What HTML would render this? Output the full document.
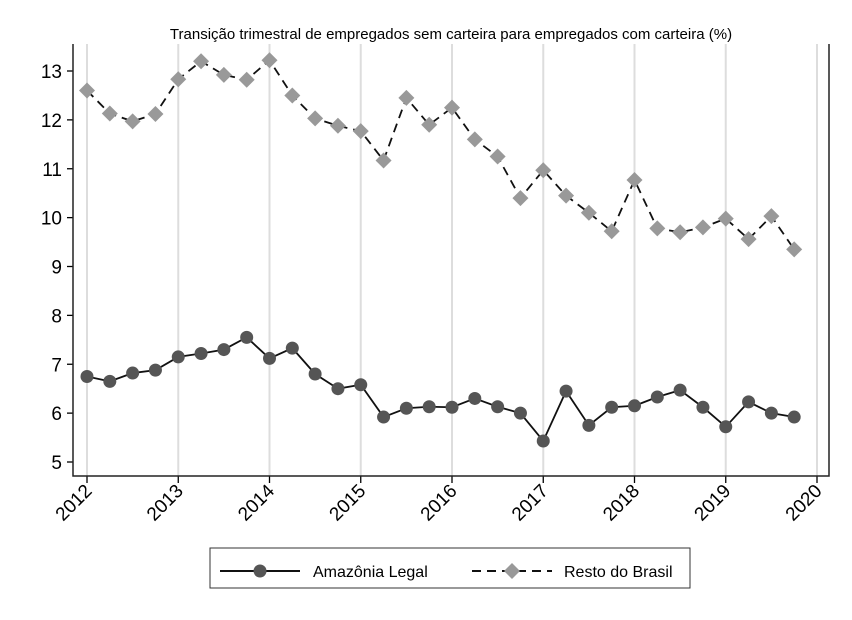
<!DOCTYPE html>
<html><head><meta charset="utf-8"><style>
body{margin:0;background:#fff;}
svg{display:block;font-family:"Liberation Sans",sans-serif;}
</style></head><body>
<svg id="c" width="852" height="620" xmlns="http://www.w3.org/2000/svg">
<rect width="852" height="620" fill="#fff"/>
<text x="451" y="39" text-anchor="middle" font-size="15" fill="#000">Transição trimestral de empregados sem carteira para empregados com carteira (%)</text>
<g id="grid"></g><g id="axes"></g><g id="series"></g>
<g>
<rect x="210" y="548" width="480" height="40" fill="#fff" stroke="#333" stroke-width="1"/>
<g>
<line x1="220" y1="571" x2="300" y2="571" stroke="#111" stroke-width="2"/>
<circle cx="260" cy="571" r="6.5" fill="#555"/>
<text x="313" y="577" font-size="16">Amazônia Legal</text></g>
<g>
<line x1="472" y1="571" x2="552" y2="571" stroke="#111" stroke-width="2" stroke-dasharray="9,6"/>
<polygon points="512,563 520,571 512,579 504,571" fill="#999"/>
<text x="564" y="577" font-size="16">Resto do Brasil</text></g>
</g>
</svg>
<script>
const years=[2012,2013,2014,2015,2016,2017,2018,2019,2020];
const yTicks=[5,6,7,8,9,10,11,12,13];
const amazonia=[6.75,6.65,6.82,6.88,7.15,7.22,7.3,7.55,7.12,7.33,6.8,6.5,6.58,5.92,6.1,6.13,6.12,6.3,6.13,6.0,5.43,6.45,5.75,6.12,6.15,6.33,6.47,6.12,5.72,6.23,6.0,5.92];
const resto=[12.6,12.13,11.97,12.12,12.83,13.2,12.92,12.82,13.22,12.5,12.03,11.88,11.77,11.17,12.45,11.9,12.25,11.6,11.25,10.4,10.97,10.45,10.1,9.72,10.77,9.78,9.7,9.8,9.98,9.56,10.03,9.35];
const NS='http://www.w3.org/2000/svg';
const L=73,R=829,T=44,B=476;
const x=t=>87+(t-2012)*91.25;
const y=v=>462-(v-5)*48.875;
function mk(tag,attrs,parent){const e=document.createElementNS(NS,tag);for(const k in attrs)e.setAttribute(k,attrs[k]);parent.appendChild(e);return e;}
const grid=document.getElementById('grid'),axes=document.getElementById('axes'),series=document.getElementById('series');
years.forEach(yr=>{
 const g=mk('line',{x1:x(yr),x2:x(yr),y1:T,y2:B,stroke:'#ddd','stroke-width':2},grid);
 
 
 const tk=mk('line',{x1:x(yr),x2:x(yr),y1:B,y2:B+7,stroke:'#000','stroke-width':1.3},axes);
 
 
 const tx=mk('text',{x:x(yr)+6,y:B+16,'font-size':19,'text-anchor':'end',transform:`rotate(-45 ${x(yr)+6} ${B+16})`},axes);
 tx.textContent=yr;
 
 
});
yTicks.forEach(v=>{
 const tk=mk('line',{x1:L-6,x2:L,y1:y(v),y2:y(v),stroke:'#000','stroke-width':1.3},axes);
 
 
 const tx=mk('text',{x:L-11,y:y(v)+7,'font-size':19,'text-anchor':'end'},axes);
 tx.textContent=v;
 
 
});
const fr=mk('path',{d:`M${L} ${T} V${B} H${R} V${T}`,fill:'none',stroke:'#222','stroke-width':1.5},axes);


function drawSeries(vals,name,dash,marker){
 const pts=vals.map((v,i)=>[x(2012+i/4),y(v)]);
 const p=mk('polyline',{points:pts.map(p=>p.join(',')).join(' '),fill:'none',stroke:'#111','stroke-width':1.8,'stroke-dasharray':dash},series);
 
 
 pts.forEach(([px,py],i)=>{
  let m;
  if(marker==='circle')m=mk('circle',{cx:px,cy:py,r:6.5,fill:'#555'},series);
  else m=mk('polygon',{points:`${px},${py-8} ${px+8},${py} ${px},${py+8} ${px-8},${py}`,fill:'#999'},series);
  
  
 });
}
drawSeries(resto,'resto','9,6','diamond');
drawSeries(amazonia,'amazonia','none','circle');
</script>
</body></html>
